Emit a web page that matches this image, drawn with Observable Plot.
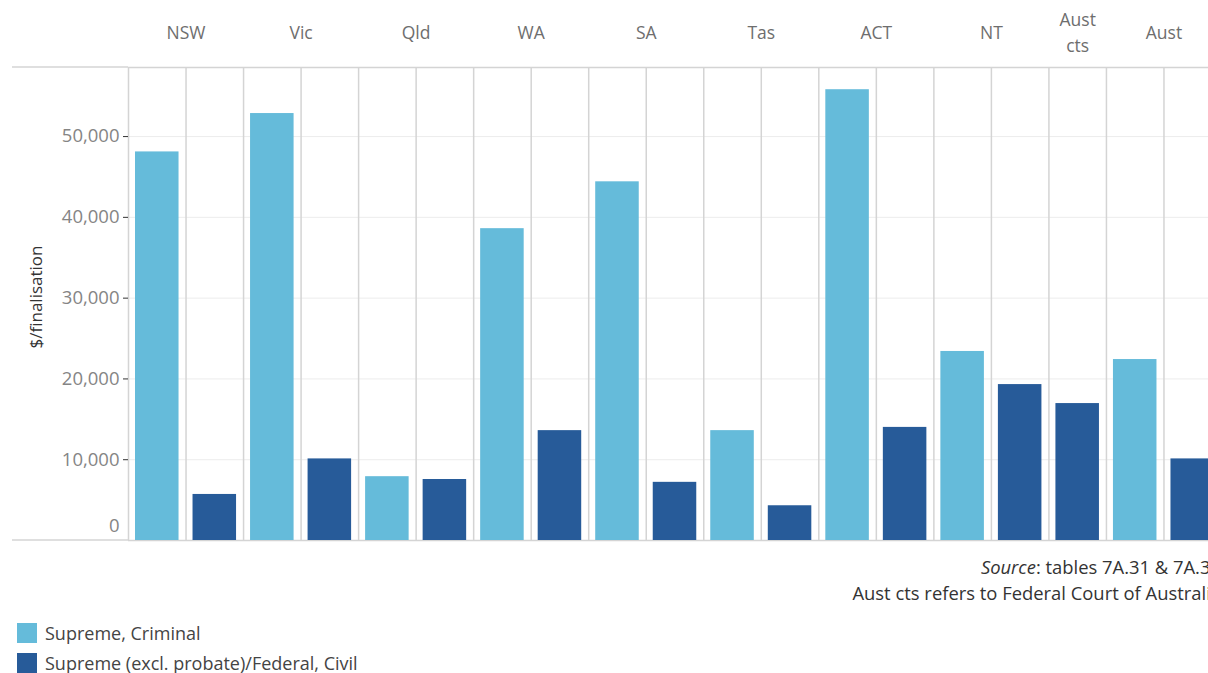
<!DOCTYPE html>
<html>
<head>
<meta charset="utf-8">
<script src="https://cdn.jsdelivr.net/npm/d3@7"></script>
<script src="https://cdn.jsdelivr.net/npm/@observablehq/plot@0.6"></script>
<style>
  html, body { margin: 0; padding: 0; background: #fff; overflow: hidden; }
  body { width: 1290px; font-family: "Open Sans", sans-serif; position: relative; }
  #chart svg { display: block; }
  .caption { width: 1221px; text-align: right; font-size: 18.4px; line-height: 26px; color: #333; margin-top: 4px; white-space: nowrap; }
  .legend { margin-top: 12px; font-size: 18px; color: #444; }
  .legend .row { display: flex; align-items: center; height: 30px; }
  .legend .sw { width: 20px; height: 20px; margin-left: 17px; margin-right: 8px; }
  .ytitle { position: absolute; left: 35px; top: 297px; transform: translate(-50%, -50%) rotate(-90deg); font-size: 17px; color: #333; white-space: nowrap; }
</style>
</head>
<body>
<div id="chart"></div>
<div class="ytitle">$/finalisation</div>
<div class="caption">
  <div><i>Source</i>: tables 7A.31 &amp; 7A.32</div>
  <div>Aust cts refers to Federal Court of Australia</div>
</div>
<div class="legend" id="legend"></div>
<script>
const jurisdictions = ["NSW", "Vic", "Qld", "WA", "SA", "Tas", "ACT", "NT", "Aust cts", "Aust"];
const seriesNames = ["Supreme, Criminal", "Supreme (excl. probate)/Federal, Civil"];
const criminal = [48100, 52850, 7900, 38600, 44400, 13600, 55800, 23400, null, 22400];
const civil = [5700, 10100, 7550, 13600, 7200, 4300, 14000, 19300, 16950, 10100];
const yTicks = [10000, 20000, 30000, 40000, 50000];
const colors = ["#65bbda", "#275b99"];
const yMax = 58550;

// Lay out the sub-columns: one slot per non-empty value (Tableau drops empty cells)
const data = [];
const groups = [];
let slot = 0;
jurisdictions.forEach((j, i) => {
  const start = slot;
  [criminal[i], civil[i]].forEach((v, k) => {
    if (v != null) { data.push({j, series: seriesNames[k], value: v, slot}); slot++; }
  });
  groups.push({j, center: (start + slot) / 2});
});
const nSlots = slot;
const boundaries = d3.range(nSlots + 1);

const chart = Plot.plot({
  width: 1221,
  height: 550,
  marginLeft: 128,
  marginRight: 0,
  marginTop: 67,
  marginBottom: 10,
  style: {fontFamily: "'Open Sans', sans-serif", fontSize: "17px", background: "#fff", overflow: "visible"},
  x: {domain: [0, nSlots], axis: null},
  y: {domain: [0, yMax], axis: null},
  color: {domain: seriesNames, range: colors},
  marks: [
    Plot.gridY(yTicks, {stroke: "#ececec", strokeOpacity: 1}),
    Plot.ruleX(boundaries, {y1: 0, y2: yMax, stroke: "#d4d4d4", strokeWidth: 1.5}),
    Plot.ruleY([0, yMax], {stroke: "#d4d4d4", strokeWidth: 1.5}),
    Plot.rectY(data, {x1: "slot", x2: d => d.slot + 1, y: "value", fill: "series", insetLeft: 7, insetRight: 7}),
    Plot.text(groups, {x: "center", text: d => d.j === "Aust cts" ? "Aust\ncts" : d.j, frameAnchor: "top", dy: -36.5,
      lineAnchor: "middle", lineHeight: 1.45, fill: "#6e6e6e", fontSize: 17.5}),
    Plot.axisY(yTicks, {tickSize: 5, tickPadding: 4, stroke: "#333", fill: "#858585", fontSize: 18.5,
      tickFormat: d3.format(","), label: null}),
    Plot.axisY([0], {tickSize: 0, tickPadding: 9, dy: -14, fill: "#858585", fontSize: 18.5, label: null})
  ]
});
document.getElementById("chart").appendChild(chart);

// extend header line and baseline into the left margin
const ys = chart.scale("y");
const svg = d3.select(chart);
[0, yMax].forEach(v => {
  svg.append("line")
    .attr("x1", 12).attr("x2", 128)
    .attr("y1", ys.apply(v)).attr("y2", ys.apply(v))
    .attr("stroke", "#d4d4d4").attr("stroke-width", 1.5);
});

const legend = d3.select("#legend");
seriesNames.forEach((s, i) => {
  const row = legend.append("div").attr("class", "row");
  row.append("div").attr("class", "sw").style("background", colors[i]);
  row.append("span").text(s);
});
</script>
</body>
</html>
